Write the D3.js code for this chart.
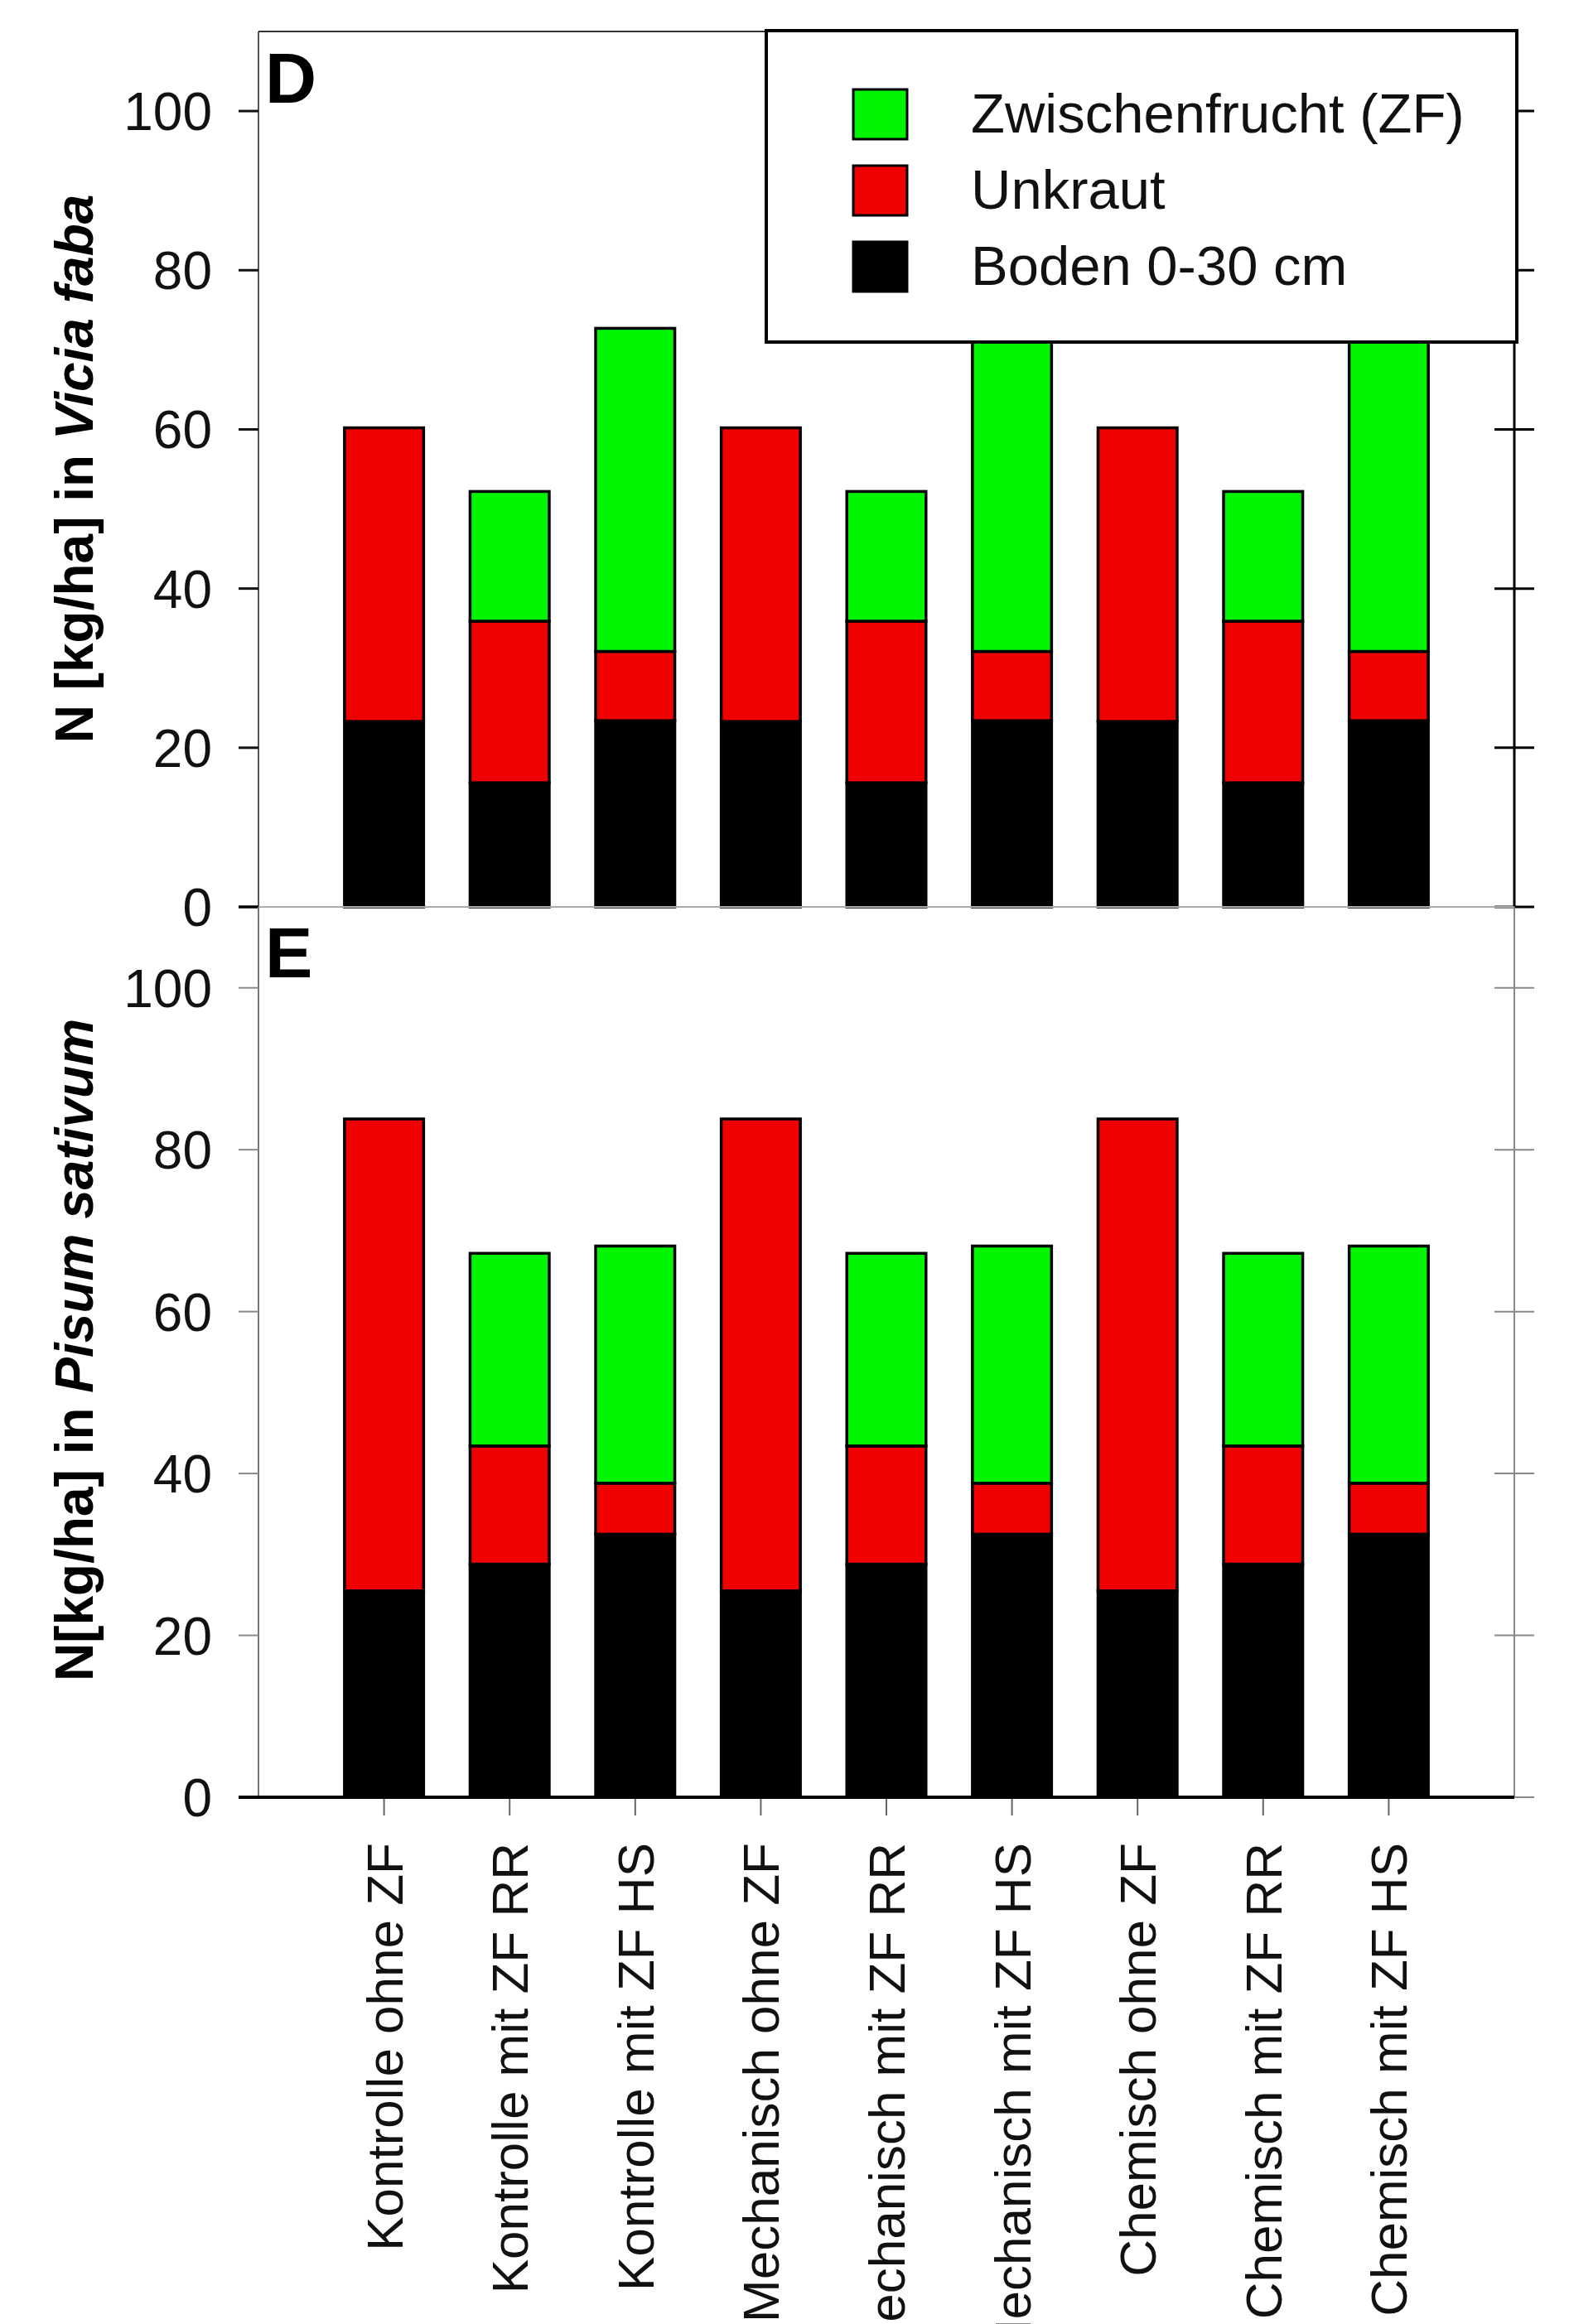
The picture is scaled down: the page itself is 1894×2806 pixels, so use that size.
<!DOCTYPE html>
<html>
<head>
<meta charset="utf-8">
<script src="https://cdn.jsdelivr.net/npm/d3@7"></script>
<style>
    body { margin: 0; background: #fff; }
    svg { display: block; font-family: "Liberation Sans", Arial, sans-serif; }
</style>
</head>
<body>
<script>
const width = 1894;
const height = 2806;

// categories on the x axis
const categories = [
    "Kontrolle ohne ZF",
    "Kontrolle mit ZF RR",
    "Kontrolle mit ZF HS",
    "Mechanisch ohne ZF",
    "Mechanisch mit ZF RR",
    "Mechanisch mit ZF HS",
    "Chemisch ohne ZF",
    "Chemisch mit ZF RR",
    "Chemisch mit ZF HS",
];

// Panel D - Vicia faba
const viciaBoden = [23.3, 15.6, 23.4, 23.3, 15.6, 23.4, 23.3, 15.6, 23.4];
const viciaUnkraut = [36.9, 20.3, 8.7, 36.9, 20.3, 8.7, 36.9, 20.3, 8.7];
const viciaZF = [0, 16.3, 40.6, 0, 16.3, 40.6, 0, 16.3, 40.6];

// Panel E - Pisum sativum
const pisumBoden = [25.5, 28.8, 32.5, 25.5, 28.8, 32.5, 25.5, 28.8, 32.5];
const pisumUnkraut = [58.3, 14.6, 6.3, 58.3, 14.6, 6.3, 58.3, 14.6, 6.3];
const pisumZF = [0, 23.8, 29.3, 0, 23.8, 29.3, 0, 23.8, 29.3];

const yTicks = [0, 20, 40, 60, 80, 100];

const keys = ["boden", "unkraut", "zf"];
const legendLabels = ["Zwischenfrucht (ZF)", "Unkraut", "Boden 0-30 cm"];
const colours = { boden: "#000000", unkraut: "#f00000", zf: "#00f500" };

const svg = d3
    .select("body")
    .append("svg")
    .attr("width", width)
    .attr("height", height)
    .style("overflow", "hidden");

svg.append("rect").attr("width", width).attr("height", height).attr("fill", "#fff");

const left = 312;
const right = 1828;

const x = d3.scalePoint().domain(categories).range([left, right]).padding(1);
const barWidth = x.step() * 0.63;

const yD = d3.scaleLinear().domain([0, 110]).range([1095, 38]);
const yE = d3.scaleLinear().domain([0, 110]).range([2170, 1095]);

function toRows(boden, unkraut, zf) {
    return categories.map((c, i) => ({
        cat: c,
        boden: boden[i],
        unkraut: unkraut[i],
        zf: zf[i],
    }));
}

function drawBars(rows, y) {
    const stacked = d3.stack().keys(keys)(rows);
    const g = svg.append("g");
    stacked.forEach((layer) => {
        g.selectAll(null)
            .data(layer.filter((d) => d[1] - d[0] > 0))
            .enter()
            .append("rect")
            .attr("x", (d) => x(d.data.cat) - barWidth / 2)
            .attr("y", (d) => y(d[1]))
            .attr("width", barWidth)
            .attr("height", (d) => y(d[0]) - y(d[1]))
            .attr("fill", colours[layer.key])
            .attr("stroke", "#000")
            .attr("stroke-width", 3.5);
    });
}

function yAxis(y, opts) {
    const g = svg.append("g");
    // left axis
    g.append("line")
        .attr("x1", left).attr("x2", left)
        .attr("y1", y(0)).attr("y2", y(110))
        .attr("stroke", opts.leftColour).attr("stroke-width", 2);
    g.selectAll(".lt")
        .data(yTicks)
        .enter()
        .append("line")
        .attr("x1", left - 24).attr("x2", left)
        .attr("y1", (d) => y(d)).attr("y2", (d) => y(d))
        .attr("stroke", (d) => (d === 0 ? "#000" : opts.tickColour))
        .attr("stroke-width", (d) => (d === 0 ? 3.5 : opts.tickWidth));
    g.selectAll(".tl")
        .data(yTicks)
        .enter()
        .append("text")
        .attr("x", 256)
        .attr("y", (d) => y(d))
        .attr("dy", "0.36em")
        .attr("text-anchor", "end")
        .attr("font-size", 64)
        .attr("fill", "#111")
        .text((d) => d);
    // right axis
    g.append("line")
        .attr("x1", right).attr("x2", right)
        .attr("y1", y(0)).attr("y2", y(110))
        .attr("stroke", opts.rightColour).attr("stroke-width", opts.rightWidth);
    g.selectAll(".rt")
        .data(yTicks)
        .enter()
        .append("line")
        .attr("x1", right - 24).attr("x2", right + 24)
        .attr("y1", (d) => y(d)).attr("y2", (d) => y(d))
        .attr("stroke", opts.rightColour)
        .attr("stroke-width", opts.tickWidth);
}

function yLabel(cy, plain, italic) {
    const t = svg
        .append("text")
        .attr("transform", `translate(112, ${cy}) rotate(-90)`)
        .attr("text-anchor", "middle")
        .attr("font-size", 64)
        .attr("font-weight", "bold");
    t.append("tspan").text(plain);
    t.append("tspan").attr("font-style", "italic").text(italic);
}

// Panel D
drawBars(toRows(viciaBoden, viciaUnkraut, viciaZF), yD);
yAxis(yD, { leftColour: "#555", tickColour: "#111", tickWidth: 3, rightColour: "#000", rightWidth: 3 });
svg.append("line")
    .attr("x1", left).attr("x2", right)
    .attr("y1", yD(110)).attr("y2", yD(110))
    .attr("stroke", "#333").attr("stroke-width", 2);
svg.append("line")
    .attr("x1", left).attr("x2", right)
    .attr("y1", yD(0)).attr("y2", yD(0))
    .attr("stroke", "#aaa").attr("stroke-width", 2);
yLabel(566, "N [kg/ha] in ", "Vicia faba");

// Panel E
drawBars(toRows(pisumBoden, pisumUnkraut, pisumZF), yE);
yAxis(yE, { leftColour: "#777", tickColour: "#888", tickWidth: 2, rightColour: "#888", rightWidth: 2 });
yLabel(1630, "N[kg/ha] in ", "Pisum sativum");

// x axis at the bottom
svg.append("line")
    .attr("x1", left - 24).attr("x2", right)
    .attr("y1", yE(0)).attr("y2", yE(0))
    .attr("stroke", "#000").attr("stroke-width", 4);
svg.selectAll(".xt")
    .data(categories)
    .enter()
    .append("line")
    .attr("x1", (d) => x(d)).attr("x2", (d) => x(d))
    .attr("y1", yE(0) + 2).attr("y2", yE(0) + 22)
    .attr("stroke", "#666").attr("stroke-width", 2);
// long labels run past the bottom edge, as in the original figure
svg.selectAll(".xl")
    .data(categories)
    .enter()
    .append("text")
    .attr("transform", (d) => `translate(${x(d) + 22}, 2225) rotate(-90)`)
    .attr("text-anchor", "end")
    .attr("font-size", 62)
    .attr("fill", "#111")
    .text((d) => d);

// panel letters
svg.append("text").attr("x", 320).attr("y", 124)
    .attr("font-size", 86).attr("font-weight", "bold").text("D");
svg.append("text").attr("x", 320).attr("y", 1180)
    .attr("font-size", 86).attr("font-weight", "bold").text("E");

// legend, drawn over the bars
const legend = svg.append("g");
legend.append("rect")
    .attr("x", 925).attr("y", 37)
    .attr("width", 906).attr("height", 376)
    .attr("fill", "#fff")
    .attr("stroke", "#000")
    .attr("stroke-width", 4);

const legendKeys = ["zf", "unkraut", "boden"];
const legendItems = legend
    .selectAll(".legend-item")
    .data(legendKeys)
    .enter()
    .append("g")
    .attr("class", "legend-item")
    .attr("transform", (d, i) => `translate(1030, ${108 + i * 92})`);

legendItems.append("rect")
    .attr("width", 65)
    .attr("height", 60)
    .attr("fill", (d) => colours[d])
    .attr("stroke", "#000")
    .attr("stroke-width", 3);

legendItems.append("text")
    .attr("x", 142)
    .attr("y", 52)
    .attr("font-size", 67)
    .attr("fill", "#111")
    .text((d, i) => legendLabels[i]);
</script>
</body>
</html>
